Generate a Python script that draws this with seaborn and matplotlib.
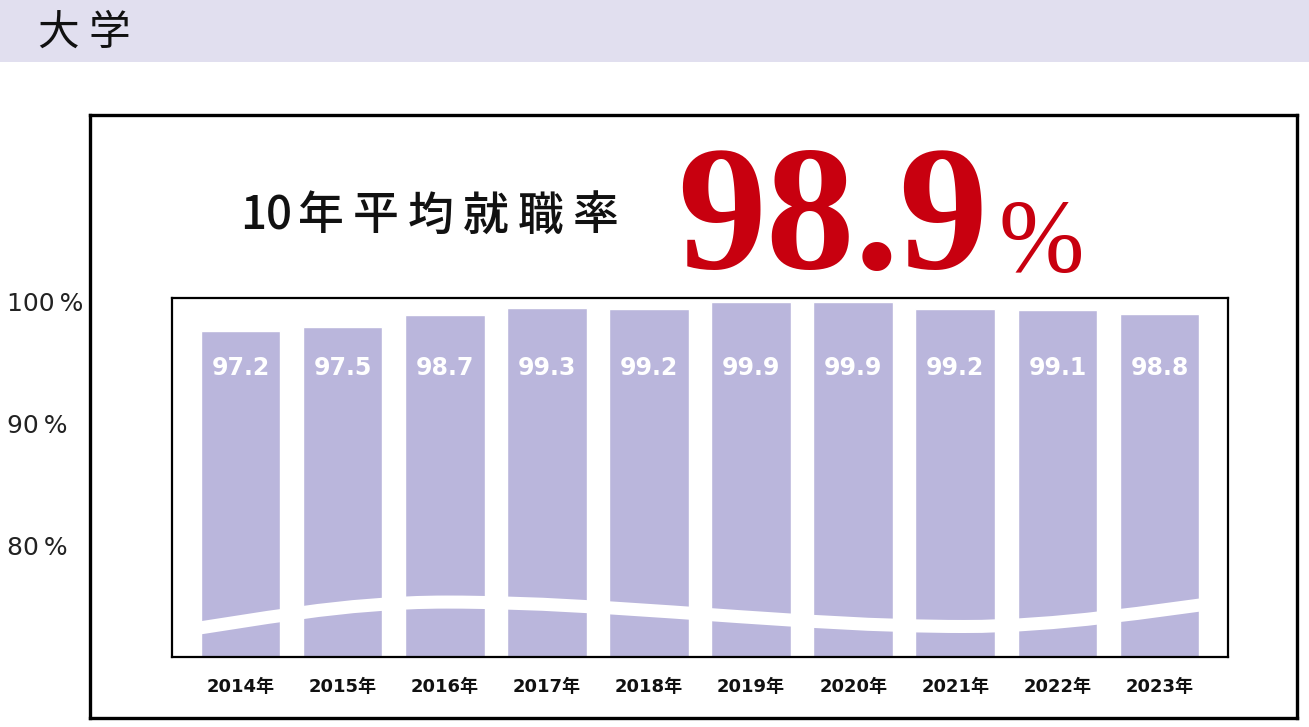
#Recreation of the university employment rate chart (大学 10年平均就職率)

import matplotlib.pyplot as plt
import seaborn as sns
import pandas as pd
from matplotlib.patches import Rectangle, PathPatch
from matplotlib.path import Path

years = ['2014', '2015', '2016', '2017', '2018', '2019', '2020', '2021', '2022', '2023']
rates = [97.2, 97.5, 98.7, 99.3, 99.2, 99.9, 99.9, 99.2, 99.1, 98.8]
year_labels = [y + '年' for y in years]
avg_rate = '98.9'
title_chars = ['10', '年', '平', '均', '就', '職', '率']
y_ticks = [80, 90, 100]
y_tick_labels = ['80\u2009%', '90\u2009%', '100\u2009%']

df = pd.DataFrame({'year': year_labels, 'rate': rates})

sns.set_style('white')
plt.rcParams['font.family'] = ['DejaVu Sans', 'Noto Sans CJK JP']

W, H = 1309, 727
fig = plt.figure(figsize=(W / 100, H / 100), dpi=100)

def fbox(x0, y0, x1, y1):
    # pixel box (top-left origin) -> figure fraction rect
    return [x0 / W, 1 - y1 / H, (x1 - x0) / W, (y1 - y0) / H]

#Header band
fig.patches.append(Rectangle((0, 1 - 62 / H), 1, 62 / H, transform=fig.transFigure,
                             facecolor='#E1DFEF', edgecolor='none', zorder=0))
fig.text(38 / W, 1 - 33 / H, '大 学', fontsize=30, family=['Noto Sans CJK JP'],
         va='center', ha='left', color='#111111')

#Outer frame
frame = fig.add_axes(fbox(90, 115, 1297, 718))
frame.set_xticks([])
frame.set_yticks([])
for s in frame.spines.values():
    s.set_linewidth(2.4)
    s.set_color('black')

#Title texts (one character per slot to get the wide letter spacing)
for k, ch in enumerate(title_chars):
    cx = 266 + 55 * k
    fig.text(cx / W, 1 - 216 / H, ch, fontsize=33, fontweight='medium',
             family=['Noto Sans CJK JP'], va='center', ha='center', color='#111111')
fig.text(677 / W, 1 - 268 / H, avg_rate, fontsize=128, fontweight='bold',
         family=['Liberation Serif'], va='baseline', ha='left', color='#C8000F')
fig.text(998 / W, 1 - 272 / H, '%', fontsize=74,
         family=['Liberation Serif'], va='baseline', ha='left', color='#C8000F')

#Main bar chart (inner box)
ax = fig.add_axes(fbox(172, 298, 1228, 657))
sns.barplot(data=df, x='year', y='rate', color='#BAB6DC', saturation=1,
            width=0.78, ax=ax)
ax.set_xlim(-0.67, 9.67)
ax.set_ylim(66.5, 100.27)
ax.set_xlabel('')
ax.set_ylabel('')
ax.set_yticks([])
ax.tick_params(axis='x', length=0, pad=15)
for lab in ax.get_xticklabels():
    lab.set_fontweight('bold')
    lab.set_fontsize(13)
    lab.set_color('#111111')
for s in ax.spines.values():
    s.set_visible(True)
    s.set_linewidth(1.6)
    s.set_color('black')
    s.set_zorder(6)

for i, r in enumerate(rates):
    ax.text(i, 0.805, f'{r:.1f}', transform=ax.get_xaxis_transform(),
            ha='center', va='center', color='white', fontsize=17, fontweight='bold')

#Wavy white band (axis break decoration)
verts = [(0.0, 0.07),
         (0.08, 0.102), (0.16, 0.153), (0.26, 0.153),
         (0.42, 0.153), (0.59, 0.085), (0.75, 0.085),
         (0.84, 0.085), (0.93, 0.129), (1.0, 0.155)]
codes = [Path.MOVETO] + [Path.CURVE4] * 9
wave = PathPatch(Path(verts, codes), transform=ax.transAxes, facecolor='none',
                 edgecolor='white', linewidth=9.4, capstyle='butt', zorder=5)
ax.add_patch(wave)

#Y labels outside the inner box
lab_ax = fig.add_axes(fbox(0, 280, 4, 570))
lab_ax.set_ylim(78.03, 101.8)
lab_ax.yaxis.tick_right()
lab_ax.set_yticks(y_ticks)
lab_ax.set_yticklabels(y_tick_labels, fontsize=18, color='#222222')
lab_ax.tick_params(axis='y', length=0, pad=2)
lab_ax.set_xticks([])
lab_ax.patch.set_visible(False)
for s in lab_ax.spines.values():
    s.set_visible(False)

fig.savefig('out.png', dpi=100)
